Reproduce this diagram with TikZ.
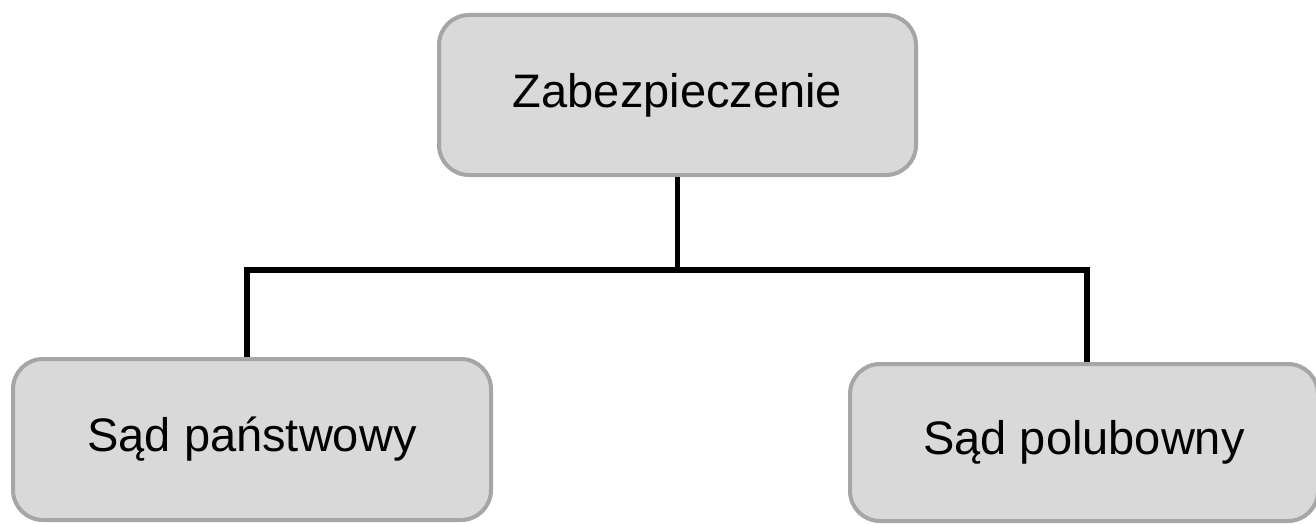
\documentclass[tikz,border=0pt]{standalone}
\usepackage{fontspec}
\setmainfont{Liberation Sans}
\definecolor{boxfill}{HTML}{D9D9D9}
\definecolor{boxline}{HTML}{A6A6A6}
\tikzset{
  box/.style={draw=boxline, fill=boxfill, line width=4pt, rounded corners=30pt,
    inner sep=0pt, font=\fontsize{47}{56}\selectfont},
  conn/.style={draw=black, line width=5.5pt, line join=miter}
}
\begin{document}
\begin{tikzpicture}[x=1pt,y=-1pt]
\useasboundingbox (0,0) rectangle (1316,524);
\node[box, minimum width=477pt, minimum height=160pt] (top) at (677.5,95) {Zabezpieczenie};
\node[box, minimum width=478pt, minimum height=161pt] (left) at (252,439.5) {Sąd państwowy};
\node[box, minimum width=468pt, minimum height=157pt] (right) at (1084,442.5) {Sąd polubowny};
\coordinate (lt) at (247,270);
\coordinate (rt) at (1087,270);
\draw[conn] (top.south) -- (top.south |- lt);
\draw[conn] (lt |- left.north) -- (lt) -- (rt) -- (rt |- right.north);
\end{tikzpicture}
\end{document}
